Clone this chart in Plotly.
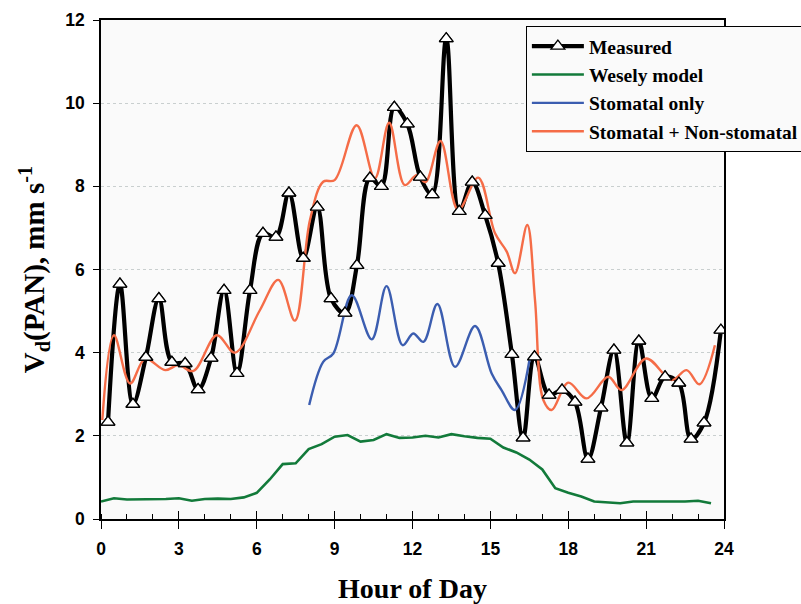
import plotly.graph_objects as go

# ---------------- data ----------------
measured_hours = [0.27, 0.73, 1.23, 1.73, 2.23, 2.73, 3.24, 3.74, 4.24, 4.74, 5.24, 5.74,
                  6.24, 6.74, 7.24, 7.79, 8.33, 8.86, 9.4, 9.86, 10.36, 10.8, 11.3, 11.8,
                  12.3, 12.76, 13.3, 13.8, 14.3, 14.8, 15.3, 15.83, 16.26, 16.7, 17.26, 17.76,
                  18.26, 18.76, 19.26, 19.76, 20.26, 20.72, 21.22, 21.73, 22.26, 22.73, 23.23, 23.88]
measured = [2.33, 5.65, 2.76, 3.89, 5.3, 3.77, 3.74, 3.11, 3.87, 5.5, 3.5, 5.5,
            6.87, 6.78, 7.84, 6.27, 7.5, 5.3, 4.95, 6.1, 8.2, 8.0, 9.9, 9.5,
            8.22, 7.8, 11.55, 7.4, 8.1, 7.3, 6.15, 3.96, 1.95, 3.9, 2.98, 3.1,
            2.81, 1.44, 2.67, 4.06, 1.83, 4.28, 2.9, 3.42, 3.27, 1.92, 2.31, 4.54]

wesely_hours = [0, 0.5, 1, 1.5, 2, 2.5, 3, 3.5, 4, 4.5, 5, 5.5, 6, 6.5, 7, 7.5, 8, 8.5,
                9, 9.5, 10, 10.5, 11, 11.5, 12, 12.5, 13, 13.5, 14, 14.5, 15, 15.5, 16, 16.5,
                17, 17.5, 18, 18.5, 19, 19.5, 20, 20.5, 21, 21.5, 22, 22.5, 23, 23.5]
wesely = [0.42, 0.50, 0.47, 0.47, 0.47, 0.48, 0.50, 0.44, 0.48, 0.49, 0.48, 0.52,
          0.63, 0.95, 1.32, 1.34, 1.68, 1.80, 1.98, 2.02, 1.86, 1.90, 2.04, 1.95,
          1.96, 2.00, 1.96, 2.04, 1.99, 1.95, 1.93, 1.72, 1.60, 1.43, 1.19, 0.74,
          0.63, 0.54, 0.42, 0.40, 0.38, 0.42, 0.42, 0.41, 0.41, 0.42, 0.44, 0.38]

stomatal_hours = [8.02, 8.56, 8.95, 9.66, 10.43, 11.0, 11.62, 12.03, 12.42, 12.96,
                  13.64, 14.41, 15.05, 15.43, 15.95, 16.52]
stomatal = [2.74, 3.78, 3.98, 5.38, 4.32, 5.6, 4.18, 4.46, 4.26, 5.17,
            3.66, 4.64, 3.50, 3.10, 2.62, 3.87]

nonstom_hours = [0.05, 0.5, 1.12, 1.7, 2.47, 2.98, 3.56, 4.46, 5.16, 6.12, 6.83, 7.47,
                 8.05, 8.56, 9.0, 9.85, 10.55, 11.1, 11.7, 12.16, 12.5, 13.08, 13.76, 14.53,
                 15.18, 15.63, 15.95, 16.42, 16.72, 17.04, 17.36, 18.0, 18.71, 19.54, 20.05,
                 21.0, 21.98, 22.56, 23.05, 23.65]
nonstom = [2.38, 4.42, 3.26, 3.85, 3.58, 3.70, 3.56, 4.42, 4.0, 5.02, 5.75, 4.77,
           7.19, 8.11, 8.15, 9.47, 8.19, 9.53, 8.03, 8.27, 8.10, 9.09, 7.43, 8.21,
           6.87, 6.43, 5.91, 7.07, 5.26, 2.86, 2.62, 3.28, 2.90, 3.42, 3.10,
           3.86, 3.34, 3.58, 3.24, 4.18]

x_ticks = [0, 3, 6, 9, 12, 15, 18, 21, 24]
y_ticks = [0, 2, 4, 6, 8, 10, 12]

# ---------------- figure ----------------
tick_font = dict(family="Liberation Sans, Arial, sans-serif", size=17.5, color="black", weight="bold")
serif = "Liberation Serif, Times New Roman, serif"

fig = go.Figure()

fig.add_trace(go.Scatter(
    x=measured_hours, y=measured, name="Measured", mode="lines+markers",
    line=dict(color="black", width=4.2, shape="spline", smoothing=1.0),
    marker=dict(symbol="triangle-up", size=12, color="white",
                line=dict(color="black", width=1.3)),
))
fig.add_trace(go.Scatter(
    x=wesely_hours, y=wesely, name="Wesely model", mode="lines",
    line=dict(color="#127a3a", width=2.6),
))
fig.add_trace(go.Scatter(
    x=stomatal_hours, y=stomatal, name="Stomatal only", mode="lines",
    line=dict(color="#3b5db0", width=2.4, shape="spline", smoothing=1.0),
))
fig.add_trace(go.Scatter(
    x=nonstom_hours, y=nonstom, name="Stomatal + Non-stomatal", mode="lines",
    line=dict(color="#f56c47", width=2.4, shape="spline", smoothing=1.0),
))
# triangles on top of all lines
fig.add_trace(go.Scatter(
    x=measured_hours, y=measured, mode="markers", showlegend=False, hoverinfo="skip",
    marker=dict(symbol="triangle-up", size=12, color="white",
                line=dict(color="black", width=1.3)),
))
# helper trace for crossing major x ticks
fig.add_trace(go.Scatter(x=[0], y=[0], xaxis="x2", mode="markers",
                         marker=dict(opacity=0), showlegend=False, hoverinfo="skip"))

fig.update_layout(
    width=801, height=604,
    margin=dict(l=101, r=77, t=20, b=85, autoexpand=False),
    paper_bgcolor="white",
    plot_bgcolor="#fafafa",
    showlegend=True,
    legend=dict(
        x=0.682, y=0.988, xanchor="left", yanchor="top",
        bgcolor="#fafafa", bordercolor="black", borderwidth=1,
        font=dict(family=serif, size=19.5, color="black", weight="bold"),
        itemwidth=52, tracegroupgap=0,
    ),
    xaxis=dict(
        range=[0, 24], tickvals=x_ticks, ticks="outside", ticklen=8, tickwidth=1.2,
        tickcolor="black", tickfont=tick_font, showline=True, linecolor="black",
        linewidth=1.5, mirror=True, showgrid=False, zeroline=False, ticklabelstandoff=5,
        automargin=False,
        minor=dict(dtick=1, tick0=0, ticks="inside", ticklen=5, tickwidth=1.2,
                   tickcolor="black", showgrid=False),
        title=dict(text="Hour of Day", standoff=24,
                   font=dict(family=serif, size=28, color="black", weight="bold")),
    ),
    xaxis2=dict(
        range=[0, 24], tickvals=x_ticks, ticks="inside", ticklen=8, tickwidth=1.2,
        tickcolor="black", showticklabels=False, overlaying="x", anchor="y",
        side="bottom", showline=False, showgrid=False, zeroline=False, automargin=False,
    ),
    yaxis=dict(
        range=[0, 12], tickvals=y_ticks, ticks="outside", ticklen=6, tickwidth=1.2,
        tickcolor="black", tickfont=tick_font, showline=True, linecolor="black",
        linewidth=1.5, mirror=True, zeroline=False, ticklabelstandoff=5, automargin=False,
        showgrid=True, gridcolor="#c9cfcf", gridwidth=1, griddash="dot",
        title=dict(text="V<sub>d</sub>(PAN), mm s<sup>-1</sup>", standoff=12,
                   font=dict(family=serif, size=29, color="black", weight="bold")),
    ),
)

fig.write_html("out.html")
